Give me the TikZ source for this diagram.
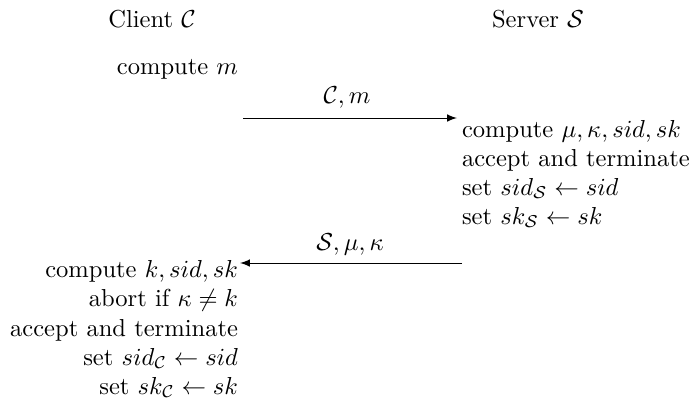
\documentclass[tikz,border=0pt]{standalone}
\usetikzlibrary{arrows}
\begin{document}
\begin{tikzpicture}[x=0.4073pt,y=-0.4073pt,
  lbl/.style={inner sep=0pt,outer sep=0pt},
  cl/.style={lbl,anchor=base east},
  sv/.style={lbl,anchor=base west},
  msg/.style={lbl,anchor=base},
  flow/.style={-latex,line width=0.4pt}]
\useasboundingbox (0,0) rectangle (691,403);
\node[msg] (client) at (152,27) {Client $\mathcal{C}$};
\node[msg] (server) at (538,27) {Server $\mathcal{S}$};
\node[cl] (cm) at (238,74) {compute $m$};
% message 1
\coordinate (a1s) at (243,118);
\coordinate (a1e) at (457,118);
\draw[flow] (a1s) -- (a1e);
\node[msg] (m1) at (347,103) {$\mathcal{C}, m$};
% server lines
\node[sv] (s1) at (462,137) {compute $\mu, \kappa, sid, sk$};
\node[sv] (s2) at (462,166) {accept and terminate};
\node[sv] (s3) at (462,195) {set $sid_{\mathcal{S}} \leftarrow sid$};
\node[sv] (s4) at (462,224) {set $sk_{\mathcal{S}} \leftarrow sk$};
% message 2
\coordinate (a2s) at (462,263);
\coordinate (a2e) at (240,263);
\draw[flow] (a2s) -- (a2e);
\node[msg] (m2) at (350,250) {$\mathcal{S}, \mu, \kappa$};
% client lines
\node[cl] (c1) at (238,277) {compute $k, sid, sk$};
\node[cl] (c2) at (238,306) {abort if $\kappa \neq k$};
\node[cl] (c3) at (238,336) {accept and terminate};
\node[cl] (c4) at (238,365) {set $sid_{\mathcal{C}} \leftarrow sid$};
\node[cl] (c5) at (238,394) {set $sk_{\mathcal{C}} \leftarrow sk$};
\end{tikzpicture}
\end{document}
